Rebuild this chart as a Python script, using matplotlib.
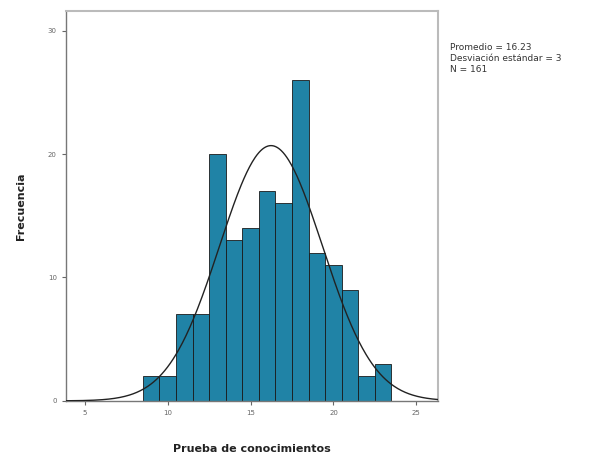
import numpy as np
import matplotlib
matplotlib.use("Agg")
import matplotlib.pyplot as plt

# Histogram data (score bins and their counts)
scores = [9, 10, 11, 12, 13, 14, 15, 16, 17, 18, 19, 20, 21, 22, 23]
counts = [2, 2, 7, 7, 20, 13, 14, 17, 16, 26, 12, 11, 9, 2, 3]
mean_val = 16.23
sd_val = 3.105
n_total = 161

x_ticks = [5, 10, 15, 20, 25]
y_ticks = [0, 10, 20, 30]

fig = plt.figure(figsize=(6.04, 4.55), dpi=100)
ax = fig.add_axes([0.109, 0.119, 0.616, 0.857])

ax.bar(scores, counts, width=1.0, color="#2083a6", edgecolor="#1a1a1a", linewidth=0.6, zorder=2)

# normal curve from the stats shown
ax.set_xlim(3.85, 26.3)
ax.set_ylim(0, 31.6)
xs = np.linspace(3.85, 26.3, 400)
ys = n_total / (sd_val * np.sqrt(2 * np.pi)) * np.exp(-0.5 * ((xs - mean_val) / sd_val) ** 2)
ax.plot(xs, ys, color="#222222", linewidth=1.0, zorder=3)

ax.set_xticks(x_ticks)
ax.set_yticks(y_ticks)
ax.tick_params(labelsize=5, colors="#666666", length=3, width=0.8)
for side in ["left", "bottom"]:
    ax.spines[side].set_color("#777777")
    ax.spines[side].set_linewidth(1.0)
for side in ["top", "right"]:
    ax.spines[side].set_color("#bbbbbb")
    ax.spines[side].set_linewidth(1.5)

ax.set_xlabel("Prueba de conocimientos", fontsize=8, fontweight="bold", color="#222222", labelpad=20)
ax.set_ylabel("Frecuencia", fontsize=8, fontweight="bold", color="#222222", labelpad=16)

fig.text(0.745, 0.905, "Promedio = 16.23\nDesviación estándar = 3\nN = 161",
         fontsize=6.5, color="#333333", va="top", ha="left", linespacing=1.25)

plt.savefig("out.png", dpi=100)
plt.close()
